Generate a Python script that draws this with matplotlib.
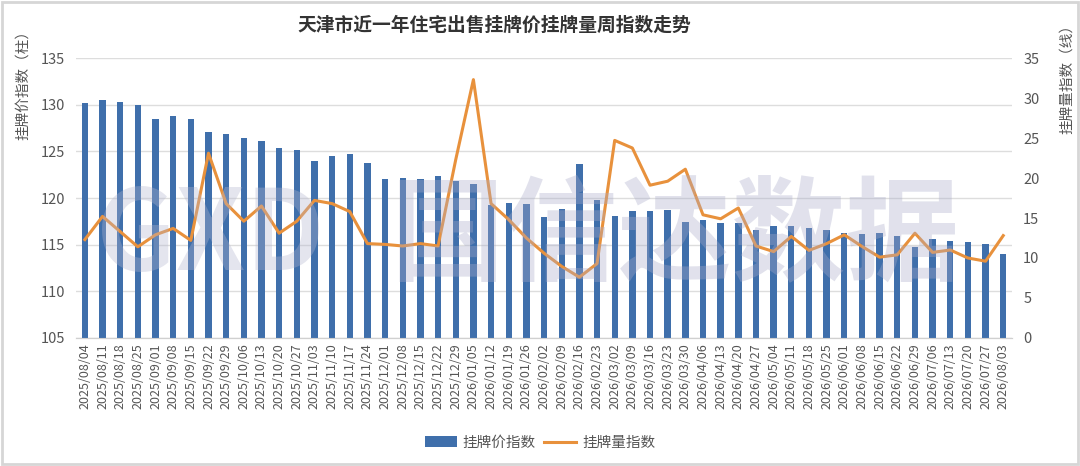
import numpy as np
import matplotlib
matplotlib.use('Agg')
import matplotlib.pyplot as plt
from matplotlib.patches import Rectangle

plt.rcParams['font.family'] = ['Noto Sans CJK SC', 'DejaVu Sans']

# ── Data ─────────────────────────────────────────────────────────────────────
dates = [
    '2025/08/04', '2025/08/11', '2025/08/18', '2025/08/25', '2025/09/01',
    '2025/09/08', '2025/09/15', '2025/09/22', '2025/09/29', '2025/10/06',
    '2025/10/13', '2025/10/20', '2025/10/27', '2025/11/03', '2025/11/10',
    '2025/11/17', '2025/11/24', '2025/12/01', '2025/12/08', '2025/12/15',
    '2025/12/22', '2025/12/29', '2026/01/05', '2026/01/12', '2026/01/19',
    '2026/01/26', '2026/02/02', '2026/02/09', '2026/02/16', '2026/02/23',
    '2026/03/02', '2026/03/09', '2026/03/16', '2026/03/23', '2026/03/30',
    '2026/04/06', '2026/04/13', '2026/04/20', '2026/04/27', '2026/05/04',
    '2026/05/11', '2026/05/18', '2026/05/25', '2026/06/01', '2026/06/08',
    '2026/06/15', '2026/06/22', '2026/06/29', '2026/07/06', '2026/07/13',
    '2026/07/20', '2026/07/27', '2026/08/03',
]

price_index = [
    130.2, 130.5, 130.25, 130.0, 128.5, 128.8, 128.5, 127.1, 126.9, 126.4,
    126.1, 125.4, 125.1, 124.0, 124.5, 124.7, 123.7, 122.0, 122.1, 122.0,
    122.4, 121.8, 121.5, 119.3, 119.5, 119.4, 118.0, 118.8, 123.6, 119.8,
    118.1, 118.6, 118.6, 118.7, 117.4, 117.6, 117.35, 117.3, 116.6, 117.0,
    117.05, 116.8, 116.55, 116.3, 116.1, 116.3, 115.9, 114.7, 115.6, 115.4,
    115.25, 115.1, 114.0,
]

volume_index = [
    12.3, 15.2, 13.3, 11.4, 12.9, 13.7, 12.2, 23.1, 16.8, 14.6,
    16.5, 13.1, 14.6, 17.2, 16.8, 15.8, 11.8, 11.7, 11.5, 11.8,
    11.5, 22.3, 32.3, 16.8, 14.8, 12.5, 10.6, 8.95, 7.6, 9.3,
    24.7, 23.75, 19.1, 19.6, 21.1, 15.4, 14.9, 16.25, 11.5, 10.8,
    12.7, 10.95, 11.8, 12.9, 11.45, 10.1, 10.4, 13.1, 10.7, 11.0,
    10.0, 9.6, 12.8,
]

BAR_COLOR = '#3f6fab'
LINE_COLOR = '#e8913c'
TEXT_COLOR = '#555555'

# ── Figure ───────────────────────────────────────────────────────────────────
fig = plt.figure(figsize=(10.8, 4.66), dpi=100)
fig.patch.set_facecolor('white')
fig.patches.append(Rectangle((0.002, 0.004), 0.996, 0.992, transform=fig.transFigure,
                             fill=False, edgecolor='#d6d6d6', lw=2))

ax = fig.add_axes([0.0704, 0.2747, 0.8667, 0.6008])
ax2 = ax.twinx()

x = np.arange(len(dates))

ax.bar(x, price_index, width=0.36, color=BAR_COLOR, zorder=3, label='挂牌价指数')
ax2.plot(x, volume_index, color=LINE_COLOR, lw=2.2, zorder=4, label='挂牌量指数')

# faint watermark over the plot
fig.text(0.625, 0.49, '国信达数据', fontsize=82, color='#a9abc9', alpha=0.35,
         ha='center', va='center', fontweight='bold', zorder=10)
fig.text(0.195, 0.49, 'GXD', fontsize=80, color='#b3b5cf', alpha=0.35,
         ha='center', va='center', fontweight='bold', zorder=10)

ax.set_xlim(-0.5, len(dates) - 0.5)
ax.set_ylim(105, 135)
ax.set_yticks(np.arange(105, 136, 5))
ax2.set_ylim(0, 35)
ax2.set_yticks(np.arange(0, 36, 5))

ax.set_xticks(x)
ax.set_xticklabels(dates, rotation=90, fontsize=9, color=TEXT_COLOR)
ax.tick_params(axis='y', labelsize=10.5, colors=TEXT_COLOR, length=0, pad=8)
ax2.tick_params(axis='y', labelsize=10.5, colors=TEXT_COLOR, length=0, pad=8)
ax.tick_params(axis='x', length=0, pad=4)

ax.yaxis.grid(True, color='#dddddd', lw=1, zorder=0)
ax.set_axisbelow(True)
for a in (ax, ax2):
    for side in ('top', 'left', 'right'):
        a.spines[side].set_visible(False)
    a.spines['bottom'].set_color('#d0d0d0')
    a.set_facecolor('none')

# axis titles sit near the top, like the source
fig.text(0.021, 0.826, '挂牌价指数（柱）', fontsize=10.5, color=TEXT_COLOR,
         rotation=90, ha='center', va='center')
fig.text(0.988, 0.838, '挂牌量指数（线）', fontsize=10.5, color=TEXT_COLOR,
         rotation=90, ha='center', va='center')

fig.text(0.458, 0.945, '天津市近一年住宅出售挂牌价挂牌量周指数走势', fontsize=13.5,
         color='#333333', ha='center', va='center', fontweight='bold')

h1, l1 = ax.get_legend_handles_labels()
h2, l2 = ax2.get_legend_handles_labels()
fig.legend(h1 + h2, l1 + l2, loc='center', bbox_to_anchor=(0.5, 0.05), ncol=2,
           frameon=False, fontsize=10.5, labelcolor=TEXT_COLOR,
           handlelength=2.2, columnspacing=0.6, handletextpad=0.4)

fig.savefig('out.png', dpi=100)
